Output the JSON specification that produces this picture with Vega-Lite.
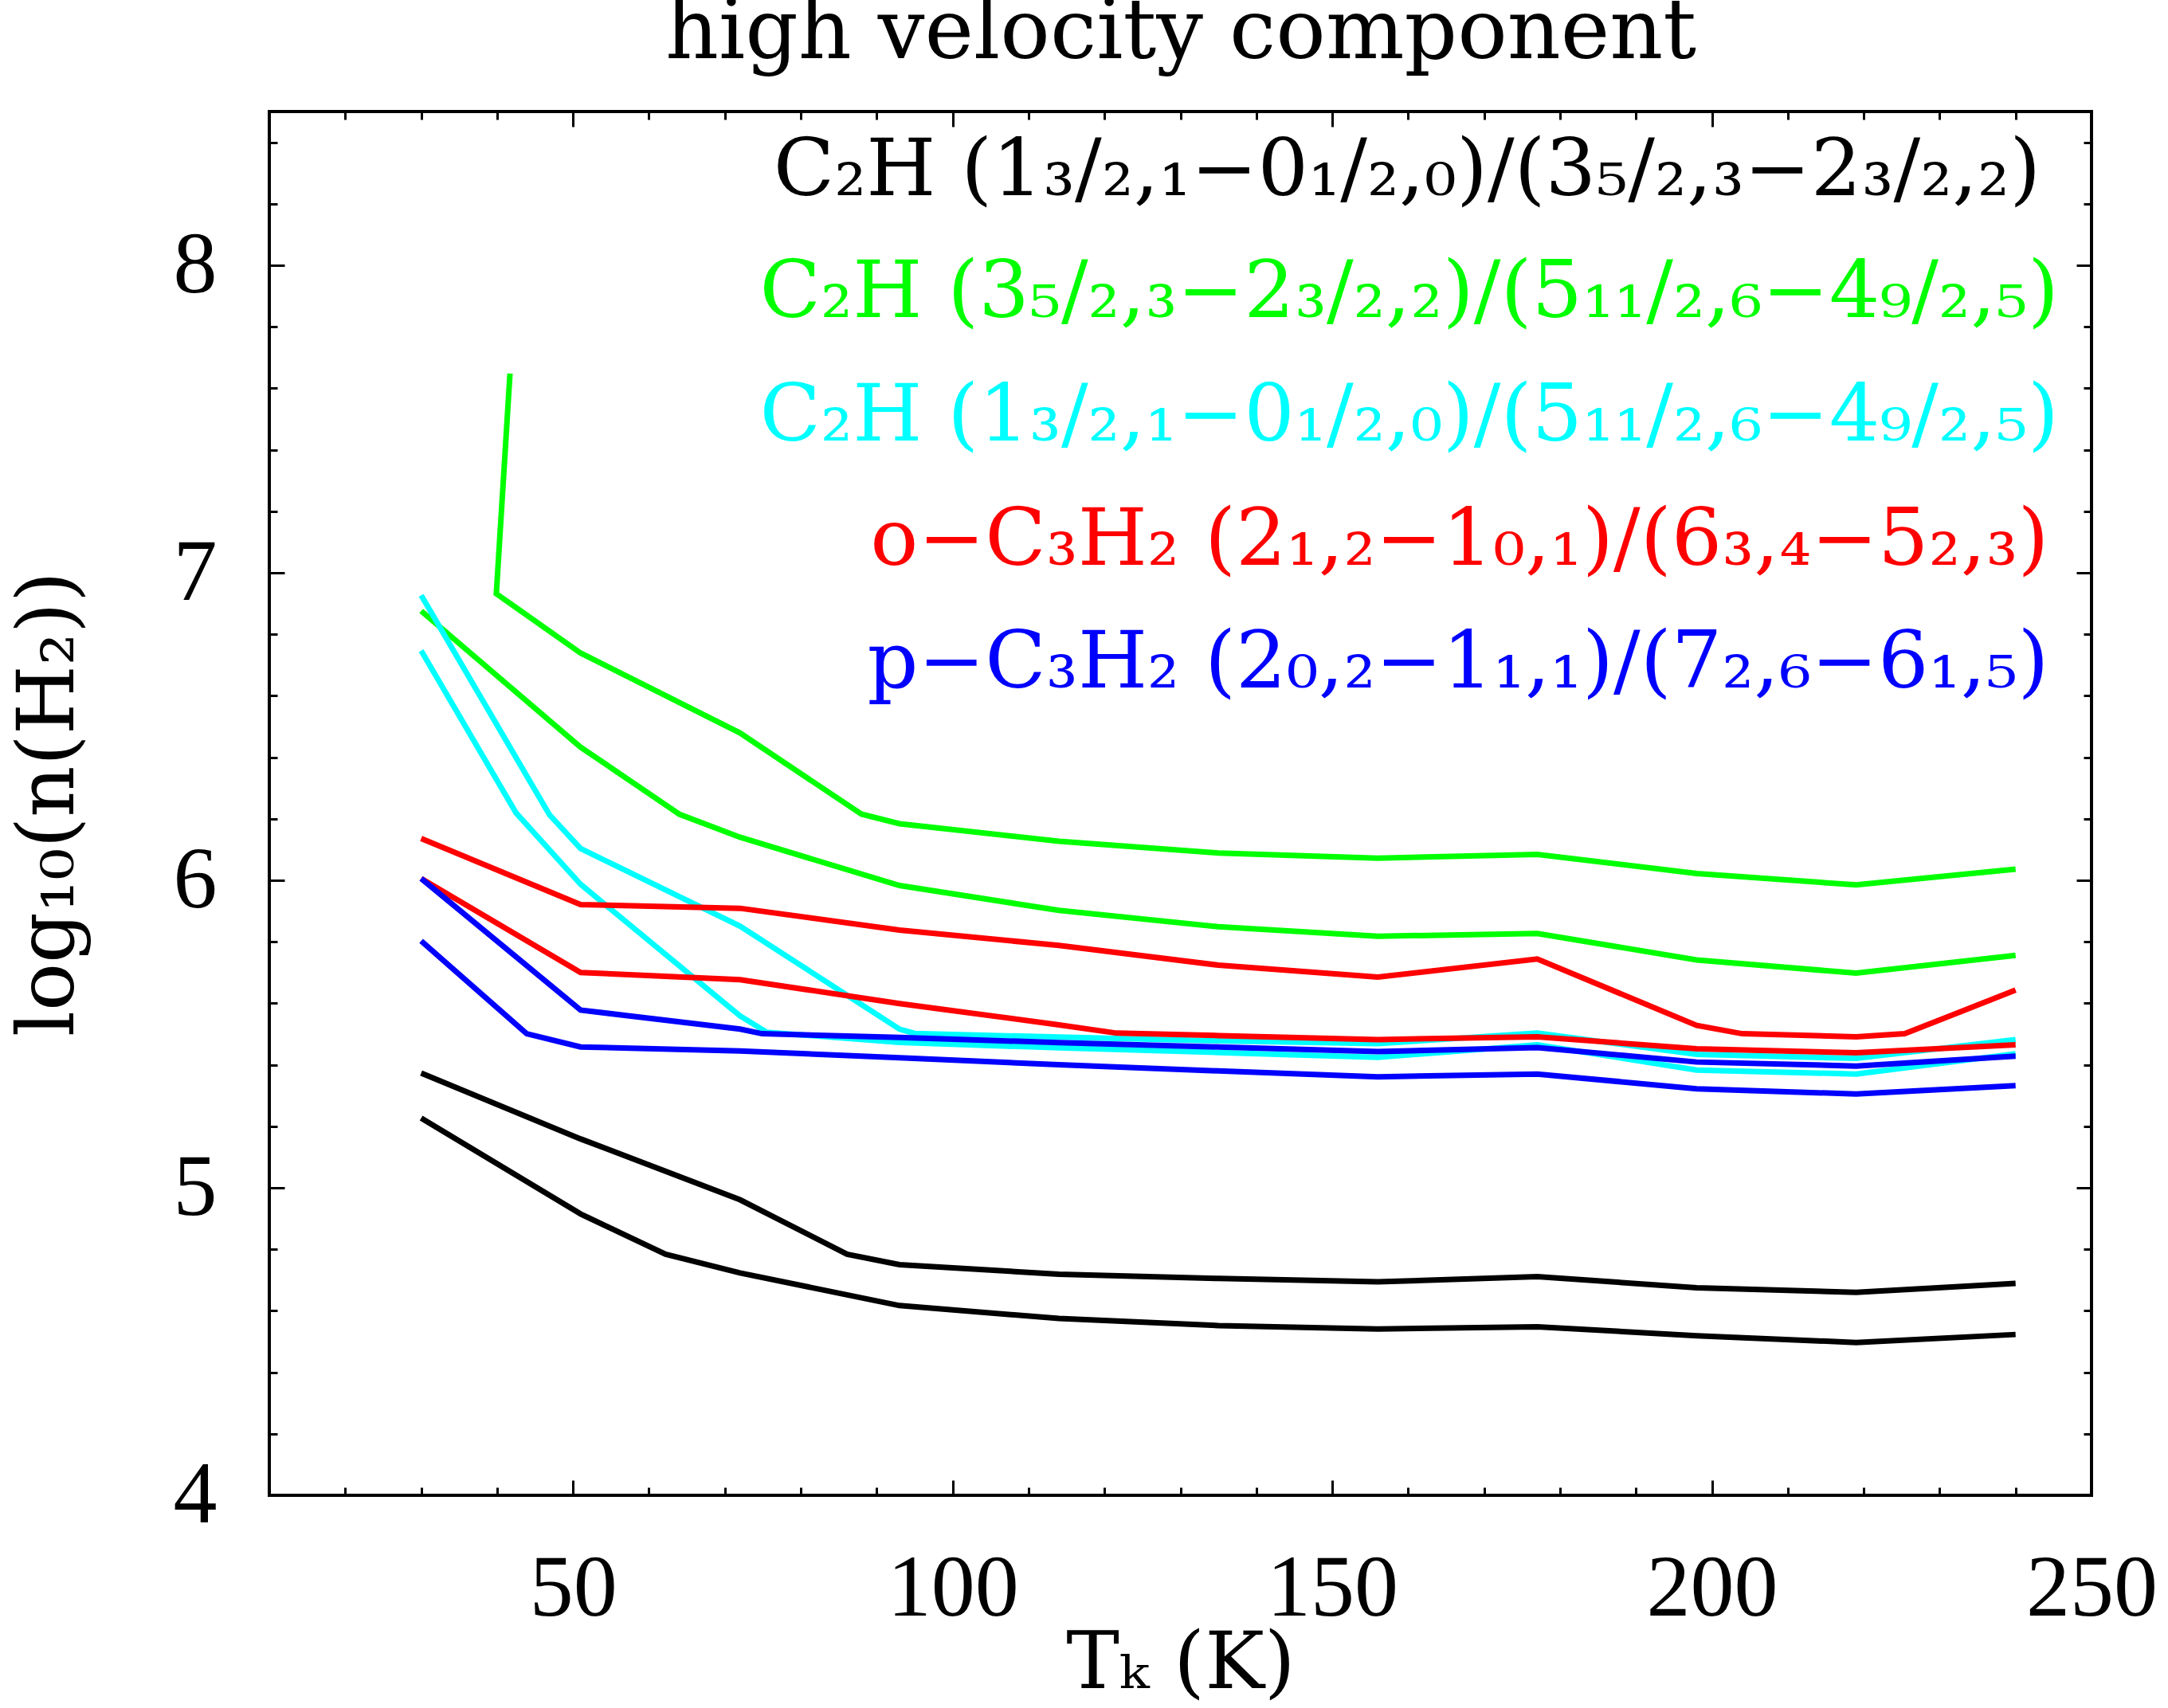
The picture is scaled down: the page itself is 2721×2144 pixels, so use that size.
{
  "$schema": "https://vega.github.io/schema/vega-lite/v6.json",
  "autosize": {"type": "none"},
  "padding": {"left": 338, "top": 140, "right": 96, "bottom": 267},
  "width": 2287,
  "height": 1737,
  "background": "white",
  "config": {
    "view": {"stroke": "black", "strokeWidth": 4},
    "axis": {"grid": false, "domain": false}
  },
  "resolve": {"axis": {"x": "independent", "y": "independent"}},
  "layer": [
    {
      "data": {
        "values": [
          {"ratio": "C2H 1-0/3-2", "edge": "a", "Tk": 30, "logn": 5.373},
          {"ratio": "C2H 1-0/3-2", "edge": "a", "Tk": 51, "logn": 5.159},
          {"ratio": "C2H 1-0/3-2", "edge": "a", "Tk": 72, "logn": 4.961},
          {"ratio": "C2H 1-0/3-2", "edge": "a", "Tk": 86.1, "logn": 4.784},
          {"ratio": "C2H 1-0/3-2", "edge": "a", "Tk": 93, "logn": 4.75},
          {"ratio": "C2H 1-0/3-2", "edge": "a", "Tk": 114, "logn": 4.719},
          {"ratio": "C2H 1-0/3-2", "edge": "a", "Tk": 135, "logn": 4.705},
          {"ratio": "C2H 1-0/3-2", "edge": "a", "Tk": 156, "logn": 4.694},
          {"ratio": "C2H 1-0/3-2", "edge": "a", "Tk": 177, "logn": 4.711},
          {"ratio": "C2H 1-0/3-2", "edge": "a", "Tk": 198, "logn": 4.675},
          {"ratio": "C2H 1-0/3-2", "edge": "a", "Tk": 219, "logn": 4.66},
          {"ratio": "C2H 1-0/3-2", "edge": "a", "Tk": 240, "logn": 4.689},
          {"ratio": "C2H 1-0/3-2", "edge": "b", "Tk": 30, "logn": 5.227},
          {"ratio": "C2H 1-0/3-2", "edge": "b", "Tk": 51, "logn": 4.915},
          {"ratio": "C2H 1-0/3-2", "edge": "b", "Tk": 62.2, "logn": 4.784},
          {"ratio": "C2H 1-0/3-2", "edge": "b", "Tk": 72, "logn": 4.723},
          {"ratio": "C2H 1-0/3-2", "edge": "b", "Tk": 93, "logn": 4.617},
          {"ratio": "C2H 1-0/3-2", "edge": "b", "Tk": 114, "logn": 4.575},
          {"ratio": "C2H 1-0/3-2", "edge": "b", "Tk": 135, "logn": 4.552},
          {"ratio": "C2H 1-0/3-2", "edge": "b", "Tk": 156, "logn": 4.541},
          {"ratio": "C2H 1-0/3-2", "edge": "b", "Tk": 177, "logn": 4.548},
          {"ratio": "C2H 1-0/3-2", "edge": "b", "Tk": 198, "logn": 4.519},
          {"ratio": "C2H 1-0/3-2", "edge": "b", "Tk": 219, "logn": 4.497},
          {"ratio": "C2H 1-0/3-2", "edge": "b", "Tk": 240, "logn": 4.523},

          {"ratio": "C2H 3-2/5-4", "edge": "a", "Tk": 41.7, "logn": 7.648},
          {"ratio": "C2H 3-2/5-4", "edge": "a", "Tk": 39.9, "logn": 6.932},
          {"ratio": "C2H 3-2/5-4", "edge": "a", "Tk": 51, "logn": 6.739},
          {"ratio": "C2H 3-2/5-4", "edge": "a", "Tk": 72, "logn": 6.479},
          {"ratio": "C2H 3-2/5-4", "edge": "a", "Tk": 88, "logn": 6.215},
          {"ratio": "C2H 3-2/5-4", "edge": "a", "Tk": 93, "logn": 6.184},
          {"ratio": "C2H 3-2/5-4", "edge": "a", "Tk": 114, "logn": 6.127},
          {"ratio": "C2H 3-2/5-4", "edge": "a", "Tk": 135, "logn": 6.089},
          {"ratio": "C2H 3-2/5-4", "edge": "a", "Tk": 156, "logn": 6.072},
          {"ratio": "C2H 3-2/5-4", "edge": "a", "Tk": 177, "logn": 6.084},
          {"ratio": "C2H 3-2/5-4", "edge": "a", "Tk": 198, "logn": 6.022},
          {"ratio": "C2H 3-2/5-4", "edge": "a", "Tk": 219, "logn": 5.985},
          {"ratio": "C2H 3-2/5-4", "edge": "a", "Tk": 240, "logn": 6.036},
          {"ratio": "C2H 3-2/5-4", "edge": "b", "Tk": 30, "logn": 6.876},
          {"ratio": "C2H 3-2/5-4", "edge": "b", "Tk": 51, "logn": 6.433},
          {"ratio": "C2H 3-2/5-4", "edge": "b", "Tk": 64, "logn": 6.215},
          {"ratio": "C2H 3-2/5-4", "edge": "b", "Tk": 72, "logn": 6.14},
          {"ratio": "C2H 3-2/5-4", "edge": "b", "Tk": 93, "logn": 5.983},
          {"ratio": "C2H 3-2/5-4", "edge": "b", "Tk": 114, "logn": 5.902},
          {"ratio": "C2H 3-2/5-4", "edge": "b", "Tk": 135, "logn": 5.849},
          {"ratio": "C2H 3-2/5-4", "edge": "b", "Tk": 156, "logn": 5.818},
          {"ratio": "C2H 3-2/5-4", "edge": "b", "Tk": 177, "logn": 5.827},
          {"ratio": "C2H 3-2/5-4", "edge": "b", "Tk": 198, "logn": 5.741},
          {"ratio": "C2H 3-2/5-4", "edge": "b", "Tk": 219, "logn": 5.698},
          {"ratio": "C2H 3-2/5-4", "edge": "b", "Tk": 240, "logn": 5.756},

          {"ratio": "C2H 1-0/5-4", "edge": "a", "Tk": 30, "logn": 6.927},
          {"ratio": "C2H 1-0/5-4", "edge": "a", "Tk": 46.9, "logn": 6.213},
          {"ratio": "C2H 1-0/5-4", "edge": "a", "Tk": 51, "logn": 6.103},
          {"ratio": "C2H 1-0/5-4", "edge": "a", "Tk": 72, "logn": 5.851},
          {"ratio": "C2H 1-0/5-4", "edge": "a", "Tk": 93, "logn": 5.516},
          {"ratio": "C2H 1-0/5-4", "edge": "a", "Tk": 95, "logn": 5.502},
          {"ratio": "C2H 1-0/5-4", "edge": "a", "Tk": 114, "logn": 5.49},
          {"ratio": "C2H 1-0/5-4", "edge": "a", "Tk": 135, "logn": 5.478},
          {"ratio": "C2H 1-0/5-4", "edge": "a", "Tk": 156, "logn": 5.469},
          {"ratio": "C2H 1-0/5-4", "edge": "a", "Tk": 177, "logn": 5.503},
          {"ratio": "C2H 1-0/5-4", "edge": "a", "Tk": 198, "logn": 5.434},
          {"ratio": "C2H 1-0/5-4", "edge": "a", "Tk": 219, "logn": 5.421},
          {"ratio": "C2H 1-0/5-4", "edge": "a", "Tk": 240, "logn": 5.482},
          {"ratio": "C2H 1-0/5-4", "edge": "b", "Tk": 30, "logn": 6.747},
          {"ratio": "C2H 1-0/5-4", "edge": "b", "Tk": 42.5, "logn": 6.219},
          {"ratio": "C2H 1-0/5-4", "edge": "b", "Tk": 51, "logn": 5.987},
          {"ratio": "C2H 1-0/5-4", "edge": "b", "Tk": 72, "logn": 5.559},
          {"ratio": "C2H 1-0/5-4", "edge": "b", "Tk": 75.5, "logn": 5.506},
          {"ratio": "C2H 1-0/5-4", "edge": "b", "Tk": 93, "logn": 5.473},
          {"ratio": "C2H 1-0/5-4", "edge": "b", "Tk": 114, "logn": 5.455},
          {"ratio": "C2H 1-0/5-4", "edge": "b", "Tk": 135, "logn": 5.44},
          {"ratio": "C2H 1-0/5-4", "edge": "b", "Tk": 156, "logn": 5.424},
          {"ratio": "C2H 1-0/5-4", "edge": "b", "Tk": 177, "logn": 5.465},
          {"ratio": "C2H 1-0/5-4", "edge": "b", "Tk": 198, "logn": 5.383},
          {"ratio": "C2H 1-0/5-4", "edge": "b", "Tk": 219, "logn": 5.37},
          {"ratio": "C2H 1-0/5-4", "edge": "b", "Tk": 240, "logn": 5.436},

          {"ratio": "o-C3H2 2-1/6-5", "edge": "a", "Tk": 30, "logn": 6.136},
          {"ratio": "o-C3H2 2-1/6-5", "edge": "a", "Tk": 51, "logn": 5.921},
          {"ratio": "o-C3H2 2-1/6-5", "edge": "a", "Tk": 72, "logn": 5.909},
          {"ratio": "o-C3H2 2-1/6-5", "edge": "a", "Tk": 93, "logn": 5.838},
          {"ratio": "o-C3H2 2-1/6-5", "edge": "a", "Tk": 114, "logn": 5.788},
          {"ratio": "o-C3H2 2-1/6-5", "edge": "a", "Tk": 135, "logn": 5.724},
          {"ratio": "o-C3H2 2-1/6-5", "edge": "a", "Tk": 156, "logn": 5.685},
          {"ratio": "o-C3H2 2-1/6-5", "edge": "a", "Tk": 177, "logn": 5.744},
          {"ratio": "o-C3H2 2-1/6-5", "edge": "a", "Tk": 198, "logn": 5.528},
          {"ratio": "o-C3H2 2-1/6-5", "edge": "a", "Tk": 204, "logn": 5.501},
          {"ratio": "o-C3H2 2-1/6-5", "edge": "a", "Tk": 219, "logn": 5.491},
          {"ratio": "o-C3H2 2-1/6-5", "edge": "a", "Tk": 225.4, "logn": 5.501},
          {"ratio": "o-C3H2 2-1/6-5", "edge": "a", "Tk": 240, "logn": 5.643},
          {"ratio": "o-C3H2 2-1/6-5", "edge": "b", "Tk": 30, "logn": 6.006},
          {"ratio": "o-C3H2 2-1/6-5", "edge": "b", "Tk": 51, "logn": 5.7},
          {"ratio": "o-C3H2 2-1/6-5", "edge": "b", "Tk": 72, "logn": 5.677},
          {"ratio": "o-C3H2 2-1/6-5", "edge": "b", "Tk": 93, "logn": 5.599},
          {"ratio": "o-C3H2 2-1/6-5", "edge": "b", "Tk": 114, "logn": 5.53},
          {"ratio": "o-C3H2 2-1/6-5", "edge": "b", "Tk": 121.6, "logn": 5.503},
          {"ratio": "o-C3H2 2-1/6-5", "edge": "b", "Tk": 135, "logn": 5.495},
          {"ratio": "o-C3H2 2-1/6-5", "edge": "b", "Tk": 156, "logn": 5.482},
          {"ratio": "o-C3H2 2-1/6-5", "edge": "b", "Tk": 177, "logn": 5.491},
          {"ratio": "o-C3H2 2-1/6-5", "edge": "b", "Tk": 198, "logn": 5.452},
          {"ratio": "o-C3H2 2-1/6-5", "edge": "b", "Tk": 219, "logn": 5.439},
          {"ratio": "o-C3H2 2-1/6-5", "edge": "b", "Tk": 240, "logn": 5.465},

          {"ratio": "p-C3H2 2-1/7-6", "edge": "a", "Tk": 30, "logn": 6.006},
          {"ratio": "p-C3H2 2-1/7-6", "edge": "a", "Tk": 51, "logn": 5.578},
          {"ratio": "p-C3H2 2-1/7-6", "edge": "a", "Tk": 72, "logn": 5.516},
          {"ratio": "p-C3H2 2-1/7-6", "edge": "a", "Tk": 74.9, "logn": 5.501},
          {"ratio": "p-C3H2 2-1/7-6", "edge": "a", "Tk": 93, "logn": 5.489},
          {"ratio": "p-C3H2 2-1/7-6", "edge": "a", "Tk": 114, "logn": 5.472},
          {"ratio": "p-C3H2 2-1/7-6", "edge": "a", "Tk": 135, "logn": 5.458},
          {"ratio": "p-C3H2 2-1/7-6", "edge": "a", "Tk": 156, "logn": 5.443},
          {"ratio": "p-C3H2 2-1/7-6", "edge": "a", "Tk": 177, "logn": 5.456},
          {"ratio": "p-C3H2 2-1/7-6", "edge": "a", "Tk": 198, "logn": 5.409},
          {"ratio": "p-C3H2 2-1/7-6", "edge": "a", "Tk": 219, "logn": 5.396},
          {"ratio": "p-C3H2 2-1/7-6", "edge": "a", "Tk": 240, "logn": 5.428},
          {"ratio": "p-C3H2 2-1/7-6", "edge": "b", "Tk": 30, "logn": 5.803},
          {"ratio": "p-C3H2 2-1/7-6", "edge": "b", "Tk": 43.9, "logn": 5.501},
          {"ratio": "p-C3H2 2-1/7-6", "edge": "b", "Tk": 51, "logn": 5.458},
          {"ratio": "p-C3H2 2-1/7-6", "edge": "b", "Tk": 72, "logn": 5.445},
          {"ratio": "p-C3H2 2-1/7-6", "edge": "b", "Tk": 93, "logn": 5.423},
          {"ratio": "p-C3H2 2-1/7-6", "edge": "b", "Tk": 114, "logn": 5.4},
          {"ratio": "p-C3H2 2-1/7-6", "edge": "b", "Tk": 135, "logn": 5.38},
          {"ratio": "p-C3H2 2-1/7-6", "edge": "b", "Tk": 156, "logn": 5.361},
          {"ratio": "p-C3H2 2-1/7-6", "edge": "b", "Tk": 177, "logn": 5.37},
          {"ratio": "p-C3H2 2-1/7-6", "edge": "b", "Tk": 198, "logn": 5.322},
          {"ratio": "p-C3H2 2-1/7-6", "edge": "b", "Tk": 219, "logn": 5.305},
          {"ratio": "p-C3H2 2-1/7-6", "edge": "b", "Tk": 240, "logn": 5.332}
        ]
      },
      "mark": {"type": "line", "strokeWidth": 7},
      "encoding": {
        "x": {
          "field": "Tk", "type": "quantitative",
          "scale": {"domain": [10, 250], "nice": false, "zero": false},
          "axis": {
            "orient": "bottom", "values": [50, 100, 150, 200, 250],
            "ticks": false, "tickSize": 0, "domain": false, "grid": false,
            "labelFont": "Liberation Serif", "labelFontSize": 110, "labelColor": "black",
            "labelPadding": 63, "labelFlush": false, "labelOverlap": false, "labelBound": false,
            "title": "Tₖ (K)", "titleFont": "DejaVu Serif", "titleFontSize": 100,
            "titleFontWeight": "normal", "titleColor": "black", "titlePadding": -10
          }
        },
        "y": {
          "field": "logn", "type": "quantitative",
          "scale": {"domain": [4, 8.5], "nice": false, "zero": false},
          "axis": {
            "orient": "left", "values": [4, 5, 6, 7, 8],
            "ticks": false, "tickSize": 0, "domain": false, "grid": false,
            "labelFont": "Liberation Serif", "labelFontSize": 110, "labelColor": "black",
            "labelPadding": 66, "labelFlush": false, "labelOverlap": false, "labelBound": false,
            "title": "log₁₀(n(H₂))", "titleFont": "DejaVu Serif", "titleFontSize": 100,
            "titleFontWeight": "normal", "titleColor": "black", "titlePadding": 105
          }
        },
        "color": {
          "field": "ratio", "type": "nominal",
          "scale": {
            "domain": ["C2H 1-0/3-2", "C2H 3-2/5-4", "C2H 1-0/5-4", "o-C3H2 2-1/6-5", "p-C3H2 2-1/7-6"],
            "range": ["#000000", "#00ff00", "#00ffff", "#ff0000", "#0000ff"]
          },
          "legend": null
        },
        "detail": {"field": "edge", "type": "nominal"},
        "order": {"value": null}
      }
    },
    {
      "data": {"values": [{"ratio": "C2H 1-0/3-2", "label": "C₂H (1₃/₂,₁−0₁/₂,₀)/(3₅/₂,₃−2₃/₂,₂)"}]},
      "mark": {"type": "text", "align": "right", "baseline": "alphabetic", "font": "DejaVu Serif", "fontSize": 100},
      "encoding": {
        "x": {
          "datum": 243.3, "type": "quantitative",
          "scale": {"domain": [10, 250], "nice": false, "zero": false},
          "axis": {"orient": "bottom", "values": [50, 100, 150, 200], "labels": false, "domain": false, "grid": false,
                   "ticks": true, "tickSize": -19, "tickWidth": 3, "tickColor": "black", "title": null}
        },
        "y": {
          "datum": 8.228, "type": "quantitative",
          "scale": {"domain": [4, 8.5], "nice": false, "zero": false},
          "axis": {"orient": "left", "values": [5, 6, 7, 8], "labels": false, "domain": false, "grid": false,
                   "ticks": true, "tickSize": -19, "tickWidth": 3, "tickColor": "black", "title": null}
        },
        "text": {"field": "label"},
        "color": {"field": "ratio", "type": "nominal", "legend": null}
      }
    },
    {
      "data": {"values": [{"ratio": "C2H 3-2/5-4", "label": "C₂H (3₅/₂,₃−2₃/₂,₂)/(5₁₁/₂,₆−4₉/₂,₅)"}]},
      "mark": {"type": "text", "align": "right", "baseline": "alphabetic", "font": "DejaVu Serif", "fontSize": 100},
      "encoding": {
        "x": {
          "datum": 245.7, "type": "quantitative",
          "scale": {"domain": [10, 250], "nice": false, "zero": false},
          "axis": {"orient": "bottom", "values": [20, 30, 40, 60, 70, 80, 90, 110, 120, 130, 140, 160, 170, 180, 190, 210, 220, 230, 240],
                   "labels": false, "domain": false, "grid": false,
                   "ticks": true, "tickSize": -10, "tickWidth": 3, "tickColor": "black", "title": null}
        },
        "y": {
          "datum": 7.832, "type": "quantitative",
          "scale": {"domain": [4, 8.5], "nice": false, "zero": false},
          "axis": {"orient": "left", "values": [4.2, 4.4, 4.6, 4.8, 5.2, 5.4, 5.6, 5.8, 6.2, 6.4, 6.6, 6.8, 7.2, 7.4, 7.6, 7.8, 8.2, 8.4],
                   "labels": false, "domain": false, "grid": false,
                   "ticks": true, "tickSize": -10, "tickWidth": 3, "tickColor": "black", "title": null}
        },
        "text": {"field": "label"},
        "color": {"field": "ratio", "type": "nominal", "legend": null}
      }
    },
    {
      "data": {"values": [{"ratio": "C2H 1-0/5-4", "label": "C₂H (1₃/₂,₁−0₁/₂,₀)/(5₁₁/₂,₆−4₉/₂,₅)"}]},
      "mark": {"type": "text", "align": "right", "baseline": "alphabetic", "font": "DejaVu Serif", "fontSize": 100},
      "encoding": {
        "x": {
          "datum": 245.7, "type": "quantitative",
          "scale": {"domain": [10, 250], "nice": false, "zero": false},
          "axis": {"orient": "top", "values": [50, 100, 150, 200], "labels": false, "domain": false, "grid": false,
                   "ticks": true, "tickSize": -19, "tickWidth": 3, "tickColor": "black",
                   "title": "high velocity component", "titleFont": "DejaVu Serif", "titleFontSize": 104,
                   "titleFontWeight": "normal", "titleColor": "black", "titleBaseline": "alphabetic",
                   "titlePadding": 66}
        },
        "y": {
          "datum": 7.43, "type": "quantitative",
          "scale": {"domain": [4, 8.5], "nice": false, "zero": false},
          "axis": {"orient": "right", "values": [5, 6, 7, 8], "labels": false, "domain": false, "grid": false,
                   "ticks": true, "tickSize": -19, "tickWidth": 3, "tickColor": "black", "title": null}
        },
        "text": {"field": "label"},
        "color": {"field": "ratio", "type": "nominal", "legend": null}
      }
    },
    {
      "data": {"values": [{"ratio": "o-C3H2 2-1/6-5", "label": "o−C₃H₂ (2₁,₂−1₀,₁)/(6₃,₄−5₂,₃)"}]},
      "mark": {"type": "text", "align": "right", "baseline": "alphabetic", "font": "DejaVu Serif", "fontSize": 100},
      "encoding": {
        "x": {
          "datum": 244.4, "type": "quantitative",
          "scale": {"domain": [10, 250], "nice": false, "zero": false},
          "axis": {"orient": "top", "values": [20, 30, 40, 60, 70, 80, 90, 110, 120, 130, 140, 160, 170, 180, 190, 210, 220, 230, 240],
                   "labels": false, "domain": false, "grid": false,
                   "ticks": true, "tickSize": -10, "tickWidth": 3, "tickColor": "black", "title": null}
        },
        "y": {
          "datum": 7.026, "type": "quantitative",
          "scale": {"domain": [4, 8.5], "nice": false, "zero": false},
          "axis": {"orient": "right", "values": [4.2, 4.4, 4.6, 4.8, 5.2, 5.4, 5.6, 5.8, 6.2, 6.4, 6.6, 6.8, 7.2, 7.4, 7.6, 7.8, 8.2, 8.4],
                   "labels": false, "domain": false, "grid": false,
                   "ticks": true, "tickSize": -10, "tickWidth": 3, "tickColor": "black", "title": null}
        },
        "text": {"field": "label"},
        "color": {"field": "ratio", "type": "nominal", "legend": null}
      }
    },
    {
      "data": {"values": [{"ratio": "p-C3H2 2-1/7-6", "label": "p−C₃H₂ (2₀,₂−1₁,₁)/(7₂,₆−6₁,₅)"}]},
      "mark": {"type": "text", "align": "right", "baseline": "alphabetic", "font": "DejaVu Serif", "fontSize": 100},
      "encoding": {
        "x": {
          "datum": 244.4, "type": "quantitative",
          "scale": {"domain": [10, 250], "nice": false, "zero": false},
          "axis": null
        },
        "y": {
          "datum": 6.627, "type": "quantitative",
          "scale": {"domain": [4, 8.5], "nice": false, "zero": false},
          "axis": null
        },
        "text": {"field": "label"},
        "color": {"field": "ratio", "type": "nominal", "legend": null}
      }
    }
  ]
}
